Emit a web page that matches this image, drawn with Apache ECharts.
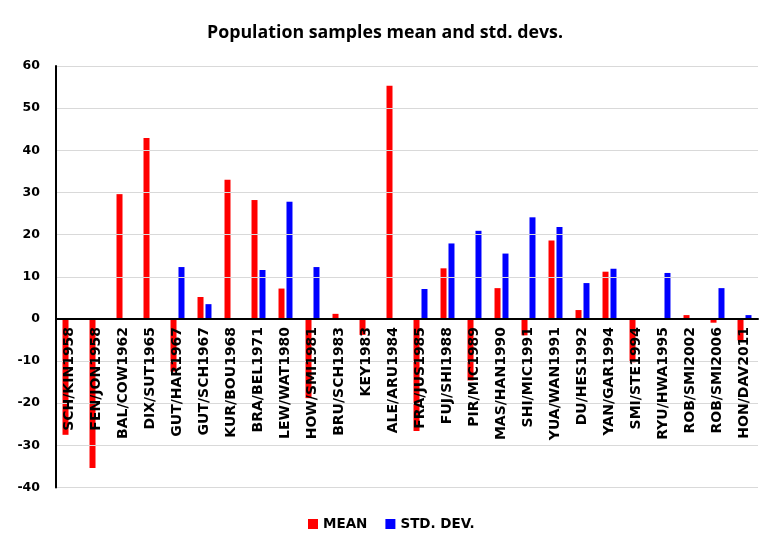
<!DOCTYPE html>
<html>
<head>
<meta charset="utf-8">
<script src="https://cdn.jsdelivr.net/npm/echarts@6/dist/echarts.min.js"></script>
<style>
  html, body { margin: 0; padding: 0; background: #fff; }
  #chart { width: 763px; height: 535px; }
</style>
</head>
<body>
<div id="chart"></div>
<script>
// Study labels (first authors / year)
const categories = [
  'SCH/KIN1958', 'FEN/JON1958', 'BAL/COW1962', 'DIX/SUT1965', 'GUT/HAR1967',
  'GUT/SCH1967', 'KUR/BOU1968', 'BRA/BEL1971', 'LEW/WAT1980', 'HOW/SMI1981',
  'BRU/SCH1983', 'KEY1983', 'ALE/ARU1984', 'FRA/JUS1985', 'FUJ/SHI1988',
  'PIR/MIC1989', 'MAS/HAN1990', 'SHI/MIC1991', 'YUA/WAN1991', 'DU/HES1992',
  'YAN/GAR1994', 'SMI/STE1994', 'RYU/HWA1995', 'ROB/SMI2002', 'ROB/SMI2006',
  'HON/DAV2011'
];

// Sample means
const meanValues = [
  -27.5, -35.4, 29.6, 42.9, -12.5,
  5.2, 33.0, 28.2, 7.2, -18.8,
  1.2, -3.8, 55.3, -26.6, 12.0,
  -14.6, 7.3, -3.9, 18.6, 2.1,
  11.2, -10.3, 0, 0.9, -0.9,
  -5.1
];

// Sample standard deviations
const stdValues = [
  0, 0, 0, 0, 12.3,
  3.5, 0, 11.6, 27.8, 12.3,
  0, 0, 0, 7.1, 17.9,
  20.9, 15.5, 24.1, 21.8, 8.5,
  11.9, 0, 10.9, 0, 7.3,
  0.9
];

const yTicks = { min: -40, max: 60, interval: 10 };

const LABEL_FONT = '"DejaVu Sans", sans-serif';
const TITLE_FONT = '"Open Sans", sans-serif';

const WIDTH = 763, HEIGHT = 535;
const gridBox = { left: 56, right: 5, top: 66, bottom: 47.5 };

// The category axis sits on the value 0 line, labels included:
// shift it up from the bottom of the plot by the height of the negative range.
const plotHeight = HEIGHT - gridBox.top - gridBox.bottom;
const zeroShift = plotHeight * (0 - yTicks.min) / (yTicks.max - yTicks.min);

const chart = echarts.init(document.getElementById('chart'), null, { renderer: 'canvas' });

chart.setOption({
  backgroundColor: '#ffffff',
  animation: false,
  title: {
    text: 'Population samples mean and std. devs.',
    left: 202,
    top: 19,
    textStyle: { fontFamily: TITLE_FONT, fontWeight: 'bold', fontSize: 17.8, color: '#000' }
  },
  legend: {
    top: 512,
    left: 303,
    icon: 'rect',
    itemWidth: 10,
    itemHeight: 10,
    itemGap: 18,
    textStyle: { fontFamily: LABEL_FONT, fontWeight: 'bold', fontSize: 13.5, color: '#000' },
    data: ['MEAN', 'STD. DEV.']
  },
  grid: {
    left: gridBox.left,
    right: gridBox.right,
    top: gridBox.top,
    bottom: gridBox.bottom,
    containLabel: false,
    outerBoundsMode: 'none'
  },
  xAxis: {
    type: 'category',
    data: categories,
    position: 'bottom',
    offset: -zeroShift,
    z: 10,
    axisLine: { onZero: false, lineStyle: { color: '#000', width: 2 } },
    axisTick: { show: false },
    axisLabel: {
      rotate: 90,
      interval: 0,
      margin: 8,
      fontFamily: LABEL_FONT,
      fontWeight: 'bold',
      fontSize: 14,
      color: '#000'
    },
    splitLine: { show: false }
  },
  yAxis: {
    type: 'value',
    min: yTicks.min,
    max: yTicks.max,
    interval: yTicks.interval,
    z: 10,
    axisLine: { show: true, lineStyle: { color: '#000', width: 2 } },
    axisTick: { show: false },
    axisLabel: {
      margin: 16,
      fontFamily: LABEL_FONT,
      fontWeight: 'bold',
      fontSize: 12.5,
      color: '#000'
    },
    splitLine: { show: true, lineStyle: { color: '#d9d9d9', width: 1 } }
  },
  series: [
    {
      name: 'MEAN',
      type: 'bar',
      data: meanValues,
      barWidth: 6,
      barGap: '33%',
      itemStyle: { color: '#ff0000' }
    },
    {
      name: 'STD. DEV.',
      type: 'bar',
      data: stdValues,
      barWidth: 6,
      barGap: '33%',
      itemStyle: { color: '#0000ff' }
    }
  ]
});
</script>
</body>
</html>
